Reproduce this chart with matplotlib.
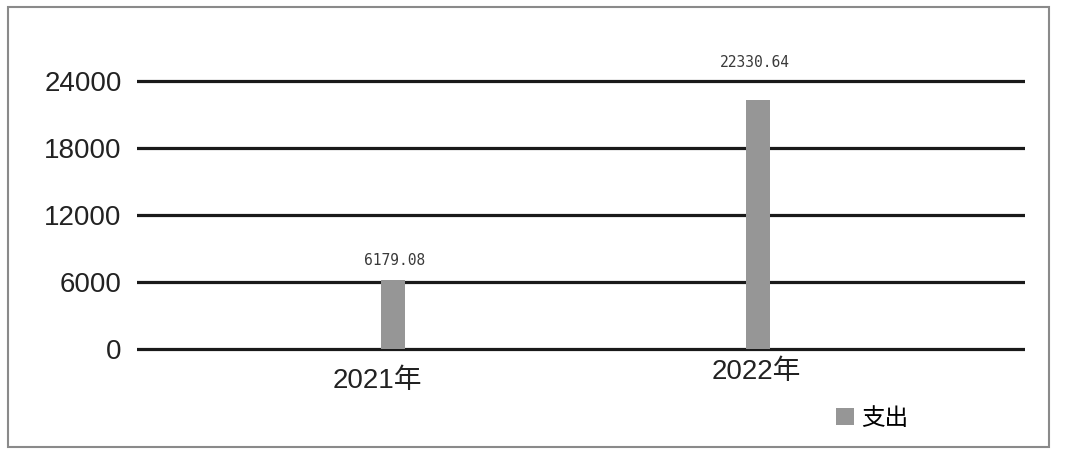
import matplotlib
matplotlib.use("Agg")
import matplotlib.pyplot as plt
from matplotlib.patches import Rectangle

# ---- data ----
categories = ["2021年", "2022年"]
values = [6179.08, 22330.64]
value_labels = ["6179.08", "22330.64"]
yticks = [0, 6000, 12000, 18000, 24000]
series_name = "支出"

W, H = 1067, 461
fig = plt.figure(figsize=(W / 100, H / 100), dpi=100)
fig.patch.set_facecolor("white")

def px_rect(l, t, r, b):
    return [l / W, 1 - b / H, (r - l) / W, (b - t) / H]

ax = fig.add_axes(px_rect(137, 69.8, 1025, 360.2))
xpos = list(range(len(categories)))
ax.set_xlim(-0.701, 1.732)
ax.set_ylim(-1000, 25000)

bar_color = "#969696"
bars = ax.bar(xpos, values, width=0.066, color=bar_color, zorder=3, label=series_name)

ax.set_yticks(yticks)
ax.set_yticklabels([str(v) for v in yticks], fontsize=20, family="Liberation Sans", color="#222222")
ax.yaxis.grid(True, color="#1a1a1a", linewidth=2.3, zorder=1)
ax.tick_params(axis="y", length=0, pad=11)
ax.set_xticks([])
for s in ax.spines.values():
    s.set_visible(False)

# category labels (small individual offsets as in reference)
cat_dx = [-11, -1]   # points
cat_dy = [-14, -7]   # points
for x, lab, dx, dy in zip(xpos, categories, cat_dx, cat_dy):
    ax.annotate(lab, xy=(x, 0), xycoords=("data", "data"), xytext=(dx, dy),
                textcoords="offset points", ha="center", va="top",
                fontsize=20, family=["Liberation Sans", "Noto Sans CJK SC"], color="#222222",
                annotation_clip=False)

# value labels
lab_dy = [8.5, 21]
lab_dx = [1, -2]
for x, v, t, dx, dy in zip(xpos, values, value_labels, lab_dx, lab_dy):
    ax.annotate(t, xy=(x, v), xytext=(dx, dy), textcoords="offset points",
                ha="center", va="bottom", fontsize=10.5, family="DejaVu Sans Mono",
                color="#3a3a3a", annotation_clip=False)

# legend
leg = fig.legend(handles=[bars], labels=[series_name], loc="center left",
                 bbox_to_anchor=(836 / W, 1 - 418 / H), bbox_transform=fig.transFigure,
                 frameon=False, borderpad=0, borderaxespad=0, handlelength=0.75,
                 handleheight=0.75, handletextpad=0.3,
                 prop={"family": "Noto Sans CJK SC", "size": 17})

# outer border
fig.patches.append(Rectangle((8 / W, 1 - 447 / H), (1049 - 8) / W, (447 - 7) / H,
                             transform=fig.transFigure, fill=False,
                             edgecolor="#8a8a8a", linewidth=1.5))

fig.savefig("out.png", dpi=100, facecolor="white")
